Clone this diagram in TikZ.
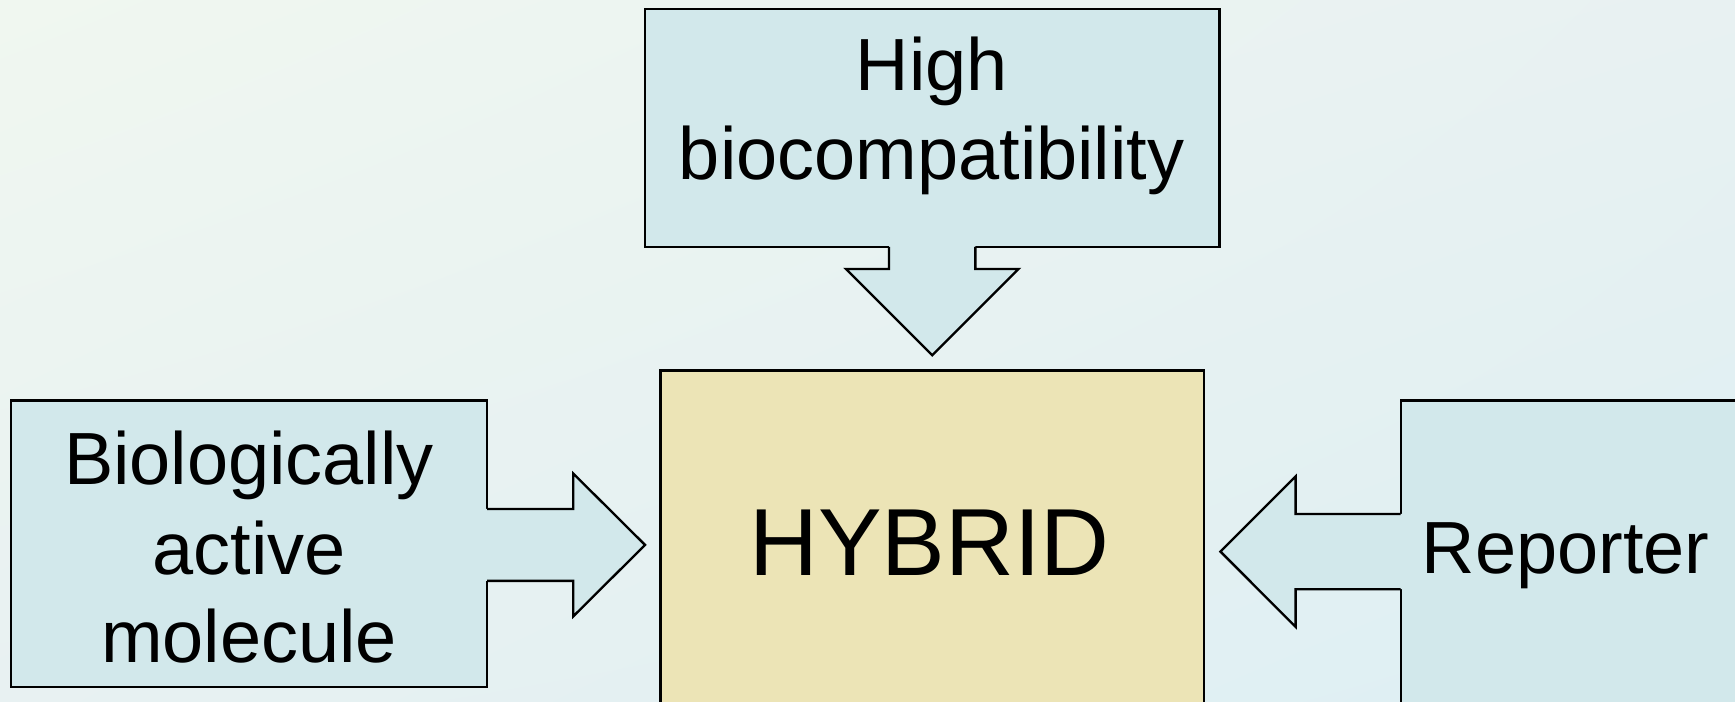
\documentclass[tikz,border=0pt]{standalone}
\usepackage{fontspec}
\setmainfont{Liberation Sans}
\usetikzlibrary{calc,shadings}
\definecolor{bgA}{HTML}{F0F7F0}
\definecolor{bgM}{HTML}{E8F1F2}
\definecolor{bgB}{HTML}{DDEFF3}
\definecolor{boxblue}{HTML}{D2E8EB}
\definecolor{boxyellow}{HTML}{ECE4B6}
\begin{document}
\begin{tikzpicture}[x=0.01cm,y=-0.01cm,
  box/.style={draw=black, line width=0.6pt, inner sep=0pt, outer sep=0pt},
  lbl/.style={anchor=base, inner sep=0pt, font=\fontsize{19}{22.5}\selectfont},
  arrowline/.style={draw=black, line width=0.6pt, line join=miter}]
\useasboundingbox (0,0) rectangle (1568,634);
\clip (0,0) rectangle (1568,634);
\shade[upper left=bgA, upper right=bgM, lower left=bgM, lower right=bgB] (0,0) rectangle (1568,634);

% boxes
\node[box, fill=boxblue, minimum width=5.19cm, minimum height=2.15cm] (top) at (842.5,115.5) {};
\node[box, fill=boxyellow, minimum width=4.91cm, minimum height=3.25cm] (hyb) at (842.5,497.5) {};
\node[box, fill=boxblue, minimum width=4.30cm, minimum height=2.59cm] (left) at (225,491.5) {};
\node[box, fill=boxblue, minimum width=3.24cm, minimum height=2.98cm] (right) at (1428,511) {};

% down arrow
\coordinate (dtip) at (842.5,321);
\fill[boxblue] ($(top.south)+(-39,-3)$) -- ($(top.south)+(-39,20)$) -- ($(top.south)+(-78,20)$) -- (dtip)
  -- ($(top.south)+(78,20)$) -- ($(top.south)+(39,20)$) -- ($(top.south)+(39,-3)$) -- cycle;
\draw[arrowline] ($(top.south)+(-39,0)$) -- ($(top.south)+(-39,20)$) -- ($(top.south)+(-78,20)$) -- (dtip)
  -- ($(top.south)+(78,20)$) -- ($(top.south)+(39,20)$) -- ($(top.south)+(39,0)$);

% right-pointing arrow from left box
\coordinate (lb) at ($(left.east)+(0,1)$);
\coordinate (rtip) at (583,492.5);
\fill[boxblue] ($(lb)+(-3,-32.5)$) -- ($(lb)+(78,-32.5)$) -- ($(lb)+(78,-64.5)$) -- (rtip)
  -- ($(lb)+(78,64.5)$) -- ($(lb)+(78,32.5)$) -- ($(lb)+(-3,32.5)$) -- cycle;
\draw[arrowline] ($(lb)+(0,-32.5)$) -- ($(lb)+(78,-32.5)$) -- ($(lb)+(78,-64.5)$) -- (rtip)
  -- ($(lb)+(78,64.5)$) -- ($(lb)+(78,32.5)$) -- ($(lb)+(0,32.5)$);

% left-pointing arrow from right box
\coordinate (rb) at (right.west |- 0,498.5);
\coordinate (ltip) at (1103,498.5);
\fill[boxblue] ($(rb)+(3,-34)$) -- ($(rb)+(-95,-34)$) -- ($(rb)+(-95,-68)$) -- (ltip)
  -- ($(rb)+(-95,68)$) -- ($(rb)+(-95,34)$) -- ($(rb)+(3,34)$) -- cycle;
\draw[arrowline] ($(rb)+(0,-34)$) -- ($(rb)+(-95,-34)$) -- ($(rb)+(-95,-68)$) -- (ltip)
  -- ($(rb)+(-95,68)$) -- ($(rb)+(-95,34)$) -- ($(rb)+(0,34)$);

% texts
\node[lbl] (t1) at (842,82) {High};
\node[lbl] (t2) at (842,162) {biocompatibility};
\node[lbl] (l1) at (225,438) {Biologically};
\node[lbl] (l2) at (225,519) {active};
\node[lbl] (l3) at (225,599) {molecule};
\node[lbl] (r1) at (1415,518) {Reporter};
\node[anchor=base, inner sep=0pt, font=\fontsize{24.5}{29}\selectfont] (h) at (840,520) {HYBRID};
\end{tikzpicture}
\end{document}
